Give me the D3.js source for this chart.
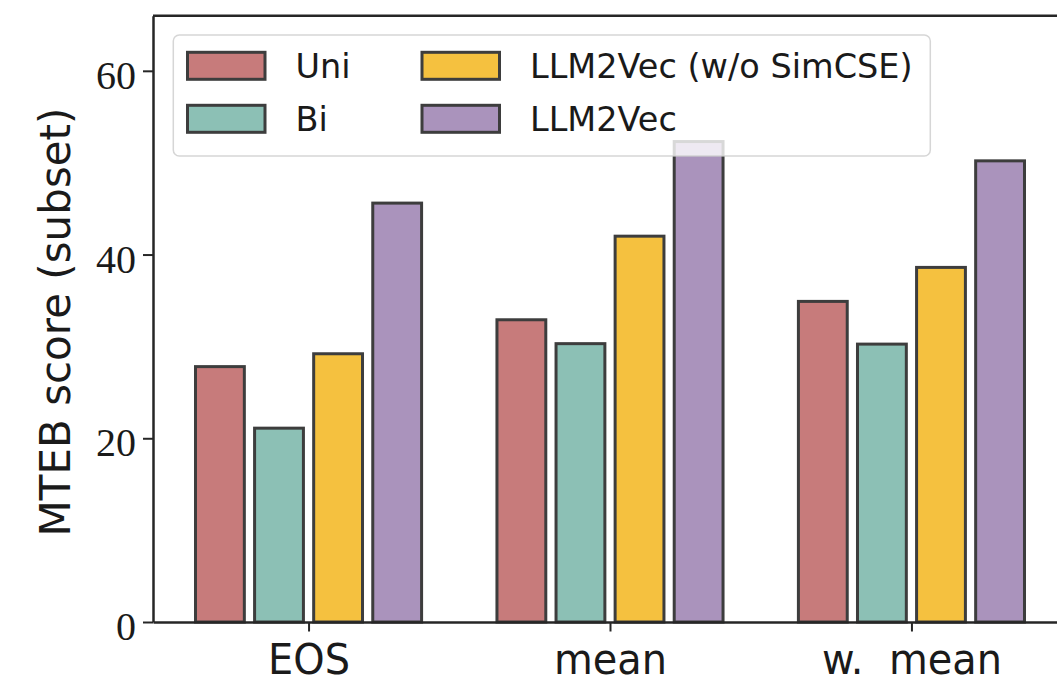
<!DOCTYPE html>
<html><head><meta charset="utf-8">
<script src="https://cdn.jsdelivr.net/npm/d3@7"></script>
<style>body{margin:0;background:#fff}svg{display:block}</style>
</head><body><svg id="chart" width="1057" height="684"></svg>
<script>
// ---- data ----
const categories = ["EOS", "mean", "w.  mean"];
const seriesNames = ["Uni", "Bi", "LLM2Vec (w/o SimCSE)", "LLM2Vec"];
const uniValues = [27.8, 32.9, 34.9];
const biValues = [21.1, 30.3, 30.25];
const llm2vecNoSimcseValues = [29.2, 42.0, 38.6];
const llm2vecValues = [45.6, 52.3, 50.2];
const yTicks = [0, 20, 40, 60];
const seriesColors = ["#C77B7B", "#8CC0B5", "#F5C13F", "#AA93BC"];

const seriesValues = [uniValues, biValues, llm2vecNoSimcseValues, llm2vecValues];

// ---- layout ----
const W = 1057, H = 684;
const plot = {left: 153, right: 1067, top: 15.7, bottom: 622};
const svg = d3.select("#chart");

const y = d3.scaleLinear().domain([0, 66]).range([plot.bottom, plot.top]);
const x = d3.scaleLinear().domain([-0.516, 2.516]).range([plot.left, plot.right]);
const pitch = 0.196, barW = 0.162;

const bars = [];
seriesValues.forEach((vals, s) => vals.forEach((v, c) => bars.push({s, c, v})));

svg.append("g").selectAll("rect").data(bars).join("rect")
  .attr("x", d => x(d.c + (d.s - 1.5) * pitch - barW / 2))
  .attr("width", d => x(d.c + barW) - x(d.c))
  .attr("y", d => y(d.v))
  .attr("height", d => y(0) - y(d.v))
  .attr("fill", d => seriesColors[d.s])
  .attr("stroke", "#3d3d3d")
  .attr("stroke-width", 3);

// ---- axes ----
const spineColor = "#262626";
const yAxis = svg.append("g").attr("transform", `translate(${plot.left},0)`)
  .call(d3.axisLeft(y).tickValues(yTicks).tickSize(10).tickPadding(7).tickSizeOuter(0));
yAxis.select(".domain").attr("stroke", spineColor).attr("stroke-width", 2.5);
yAxis.selectAll(".tick line").attr("stroke", spineColor).attr("stroke-width", 2);
yAxis.selectAll(".tick text")
  .attr("font-family", "'Liberation Serif', 'DejaVu Serif', serif")
  .attr("font-size", 40).attr("fill", "#1a1a1a").attr("dy", "0.44em");

const xAxis = svg.append("g").attr("transform", `translate(0,${plot.bottom})`)
  .call(d3.axisBottom(x).tickValues([0, 1, 2]).tickFormat(i => categories[i]).tickSize(9.5).tickSizeOuter(0));
xAxis.select(".domain").attr("stroke", spineColor).attr("stroke-width", 2.5);
xAxis.selectAll(".tick line").attr("stroke", spineColor).attr("stroke-width", 2);
xAxis.selectAll(".tick text")
  .attr("font-family", "'DejaVu Sans', sans-serif")
  .attr("font-size", 42).attr("fill", "#1a1a1a")
  .attr("y", 52).attr("dy", 0)
  .style("white-space", "pre")
  .attr("transform", "scale(0.95,1)");

// top spine
svg.append("line")
  .attr("x1", plot.left).attr("x2", plot.right)
  .attr("y1", plot.top).attr("y2", plot.top)
  .attr("stroke", spineColor).attr("stroke-width", 2.5);

// y label
svg.append("text")
  .attr("transform", `translate(70,322) rotate(-90)`)
  .attr("text-anchor", "middle")
  .attr("font-family", "'DejaVu Sans', sans-serif")
  .attr("font-size", 42).attr("fill", "#1a1a1a")
  .text("MTEB score (subset)");

// ---- legend ----
const lg = svg.append("g");
lg.append("rect")
  .attr("x", 173.3).attr("y", 35).attr("width", 757).attr("height", 121)
  .attr("rx", 6).attr("ry", 6)
  .attr("fill", "#ffffff").attr("fill-opacity", 0.8)
  .attr("stroke", "#cccccc").attr("stroke-opacity", 0.8).attr("stroke-width", 1.5);

const legendItems = seriesNames.map((name, i) => ({name, i, col: Math.floor(i / 2), row: i % 2}));
const li = lg.selectAll("g.item").data(legendItems).join("g")
  .attr("transform", d => `translate(${187.5 + d.col * 234.5},${52.3 + d.row * 53})`);
li.append("rect")
  .attr("width", 77.5).attr("height", 27)
  .attr("fill", d => seriesColors[d.i])
  .attr("stroke", "#3d3d3d").attr("stroke-width", 3);
li.append("text")
  .attr("x", 108).attr("y", 25.5)
  .attr("font-family", "'DejaVu Sans', sans-serif")
  .attr("font-size", 33.5).attr("fill", "#1a1a1a")
  .text(d => d.name);
</script>
</body></html>
